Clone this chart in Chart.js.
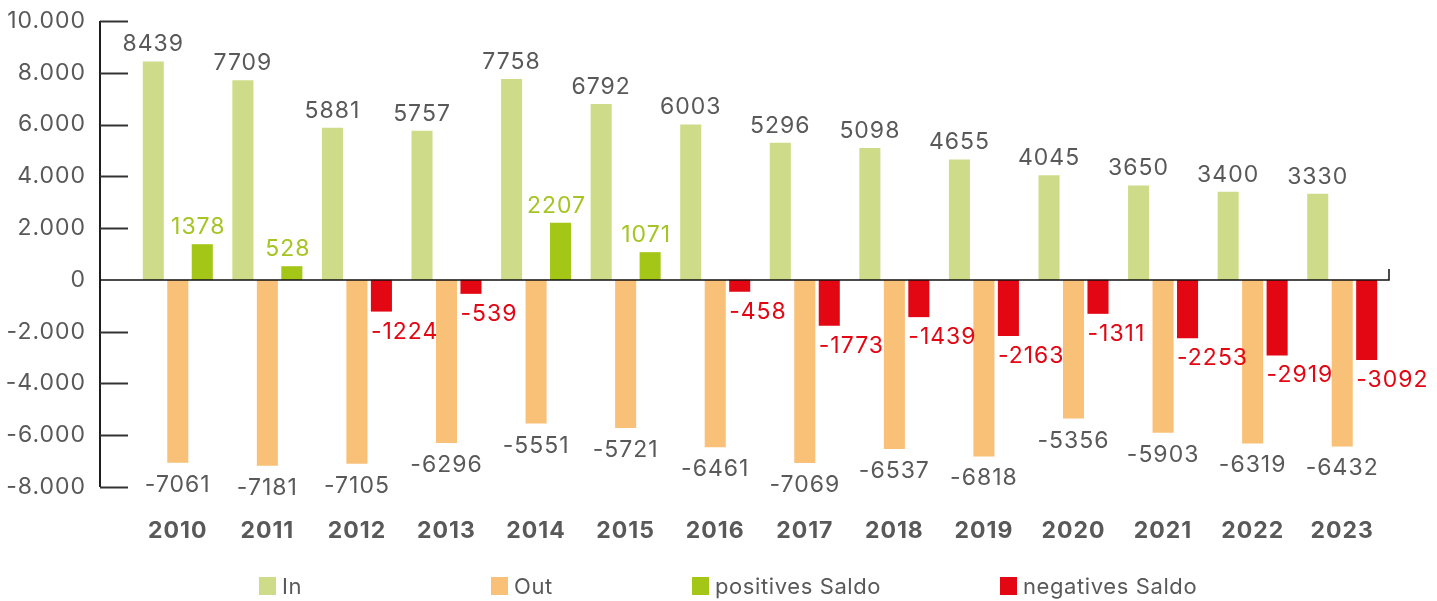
<!DOCTYPE html>
<html>
<head>
<meta charset="utf-8">
<script src="https://cdn.jsdelivr.net/npm/chart.js@4.4.1/dist/chart.umd.min.js"></script>
<style>
  body { margin: 0; background: #fff; }
  #wrap { position: relative; width: 1437px; height: 601px; }
  #legend { position: absolute; left: 0; top: 577px; width: 1437px; height: 20px; }
  .item { position: absolute; top: 0; display: flex; align-items: center; height: 18px; }
  .box { width: 17px; height: 18px; }
  .txt { margin-left: 6px; font: 22px Inter, sans-serif; letter-spacing: 0.6px; color: #595959; line-height: 18px; }
</style>
</head>
<body>
<div id="wrap">
  <canvas id="chart" width="1437" height="601"></canvas>
  <div id="legend"></div>
</div>
<script>
// Wanderung: Zuzüge, Fortzüge und Saldo je Jahr
const years = ['2010', '2011', '2012', '2013', '2014', '2015', '2016', '2017', '2018', '2019', '2020', '2021', '2022', '2023'];
const inflow = [8439, 7709, 5881, 5757, 7758, 6792, 6003, 5296, 5098, 4655, 4045, 3650, 3400, 3330];
const outflow = [-7061, -7181, -7105, -6296, -5551, -5721, -6461, -7069, -6537, -6818, -5356, -5903, -6319, -6432];
const saldoPositive = [1378, 528, null, null, 2207, 1071, null, null, null, null, null, null, null, null];
const saldoNegative = [null, null, -1224, -539, null, null, -458, -1773, -1439, -2163, -1311, -2253, -2919, -3092];
const yTicks = [-8000, -6000, -4000, -2000, 0, 2000, 4000, 6000, 8000, 10000];
const seriesNames = ['In', 'Out', 'positives Saldo', 'negatives Saldo'];

const colors = ['#cedc89', '#f9c077', '#a3c617', '#e30613'];
const labelColors = ['#595959', '#595959', '#a6c424', '#e30613'];
const legendLeft = [259, 491, 692, 1000];

const AXIS_X = 100;
const AXIS_RIGHT = 1389;
const FONT_SIZE = 23;

const fmt = v => String(v);

Chart.defaults.font.family = 'Inter, sans-serif';
Chart.defaults.color = '#595959';

// the reference typeface runs a bit wider than Inter
const spacing = {
    id: 'spacing',
    beforeDraw(chart) { chart.ctx.letterSpacing = '1px'; }
};

// draws the axis lines and the inward tick marks
const axisLines = {
    id: 'axisLines',
    afterDatasetsDraw(chart) {
        const ctx = chart.ctx;
        const y = chart.scales.y;
        const zero = y.getPixelForValue(0);
        ctx.save();
        ctx.strokeStyle = '#1e1e1e';
        ctx.lineWidth = 2;
        ctx.beginPath();
        ctx.moveTo(AXIS_X, y.getPixelForValue(yTicks[yTicks.length - 1]));
        ctx.lineTo(AXIS_X, y.getPixelForValue(yTicks[0]));
        ctx.stroke();
        ctx.strokeStyle = '#333';
        yTicks.forEach(v => {
            if (v === 0) return;
            const py = Math.round(y.getPixelForValue(v)) + 0.5;
            ctx.beginPath();
            ctx.moveTo(AXIS_X, py);
            ctx.lineTo(AXIS_X + 28, py);
            ctx.stroke();
        });
        ctx.strokeStyle = '#111';
        ctx.lineWidth = 1.5;
        ctx.beginPath();
        ctx.moveTo(AXIS_X, zero);
        ctx.lineTo(AXIS_RIGHT, zero);
        ctx.lineTo(AXIS_RIGHT, zero - 11);
        ctx.stroke();
        ctx.restore();
    }
};

// value labels above / below each bar
const valueLabels = {
    id: 'valueLabels',
    afterDatasetsDraw(chart) {
        const ctx = chart.ctx;
        ctx.save();
        ctx.font = FONT_SIZE + 'px Inter, sans-serif';
        ctx.letterSpacing = '1px';
        ctx.textBaseline = 'alphabetic';
        chart.data.datasets.forEach((ds, i) => {
            const meta = chart.getDatasetMeta(i);
            meta.data.forEach((bar, j) => {
                const v = ds.data[j];
                if (v === null || v === undefined) return;
                const p = bar.getProps(['x', 'y', 'width'], true);
                ctx.fillStyle = labelColors[i];
                if (i === 3) {
                    ctx.textAlign = 'left';
                    ctx.fillText(fmt(v), p.x - p.width / 2, p.y + 27);
                } else if (v < 0) {
                    ctx.textAlign = 'center';
                    ctx.fillText(fmt(v), p.x, p.y + 29);
                } else {
                    ctx.textAlign = 'center';
                    ctx.fillText(fmt(v), p.x - (i === 2 ? 4 : 0), p.y - 10);
                }
            });
        });
        ctx.restore();
    }
};

const ctx = document.getElementById('chart').getContext('2d');
new Chart(ctx, {
    type: 'bar',
    data: {
        labels: years,
        datasets: [
            { label: seriesNames[0], data: inflow, backgroundColor: colors[0], stack: 'in' },
            { label: seriesNames[1], data: outflow, backgroundColor: colors[1], stack: 'out' },
            { label: seriesNames[2], data: saldoPositive, backgroundColor: colors[2], stack: 'saldo' },
            { label: seriesNames[3], data: saldoNegative, backgroundColor: colors[3], stack: 'saldo' }
        ]
    },
    options: {
        responsive: false,
        animation: false,
        events: [],
        devicePixelRatio: 1,
        categoryPercentage: 0.82,
        barPercentage: 0.86,
        layout: { padding: { top: 21, right: 50, left: 0, bottom: 0 } },
        plugins: {
            legend: { display: false },
            tooltip: { enabled: false }
        },
        scales: {
            x: {
                stacked: true,
                grid: { display: false, drawTicks: false },
                border: { display: false },
                ticks: {
                    padding: 30,
                    font: { size: FONT_SIZE, weight: 'bold' },
                    color: '#595959',
                    maxRotation: 0,
                    autoSkip: false
                },
                afterFit(scale) {
                    scale.height = 114;
                    scale.paddingLeft = 0;
                    scale.paddingRight = 0;
                }
            },
            y: {
                stacked: true,
                min: -8000,
                max: 10000,
                grid: { display: false, drawTicks: false },
                border: { display: false },
                afterBuildTicks(scale) { scale.ticks = yTicks.map(v => ({ value: v })); },
                ticks: {
                    padding: 47,
                    font: { size: FONT_SIZE },
                    color: '#595959',
                    callback: v => v.toLocaleString('de-DE')
                },
                afterFit(scale) {
                    scale.width = 133;
                    scale.paddingTop = 0;
                    scale.paddingBottom = 0;
                }
            }
        }
    },
    plugins: [spacing, axisLines, valueLabels]
});

// legend as plain html, same order and colours as the datasets
const legend = document.getElementById('legend');
seriesNames.forEach((name, i) => {
    const item = document.createElement('div');
    item.className = 'item';
    item.style.left = legendLeft[i] + 'px';
    item.innerHTML = `<span class="box" style="background:${colors[i]}"></span><span class="txt">${name}</span>`;
    legend.appendChild(item);
});
</script>
</body>
</html>
